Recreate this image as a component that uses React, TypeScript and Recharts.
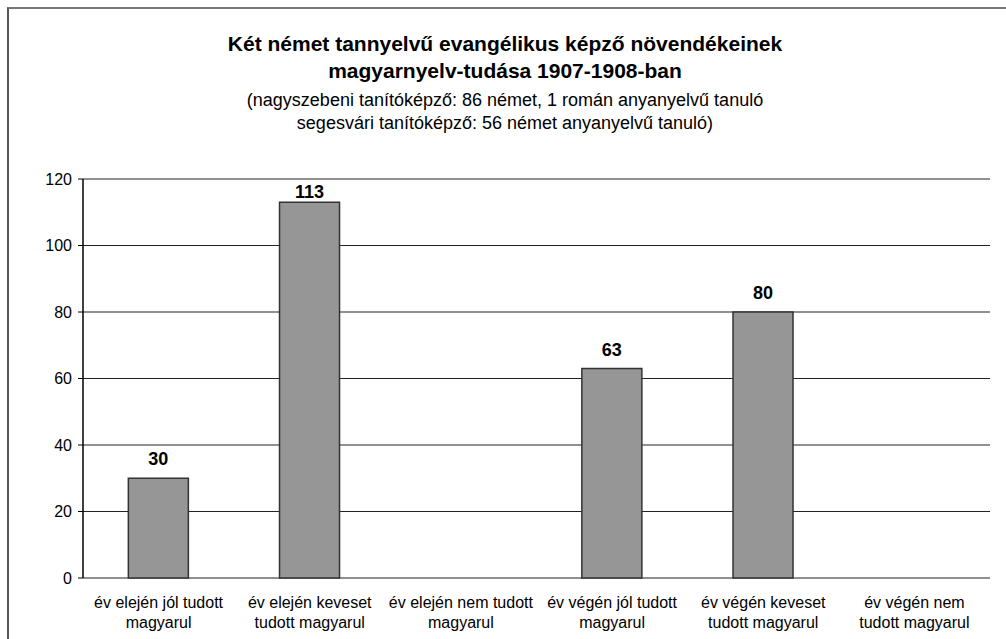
import { Bar, BarChart, CartesianGrid, LabelList, XAxis, YAxis } from 'recharts'

const categories = [
  ['év elején jól tudott', 'magyarul'],
  ['év elején keveset', 'tudott magyarul'],
  ['év elején nem tudott', 'magyarul'],
  ['év végén jól tudott', 'magyarul'],
  ['év végén keveset', 'tudott magyarul'],
  ['év végén nem', 'tudott magyarul'],
]
const students = [30, 113, 0, 63, 80, 0]
const yTicks = [0, 20, 40, 60, 80, 100, 120]
const edgeTicks = [0, 1, 2, 3, 4, 5, 6]

const data = categories.map((lines, i) => ({
  name: lines.join(' '),
  lines,
  value: students[i],
}))

const font = 'Arial, "Liberation Sans", sans-serif'
const plotTop = 179

function CategoryTick(props: any) {
  const { x, y, payload, index } = props
  const lines = data[index]?.lines ?? [String(payload.value)]
  return (
    <text x={x} y={y} textAnchor="middle" fontFamily={font} fontSize={16} fill="#000">
      {lines.map((line: string, i: number) => (
        <tspan key={i} x={x} dy={i === 0 ? 22 : 20}>
          {line}
        </tspan>
      ))}
    </text>
  )
}

// value label above the bar, kept inside the plot when the bar is near the top
function ValueLabel(props: any) {
  const { viewBox, value } = props
  if (!value || !viewBox) return null
  const cx = viewBox.x + viewBox.width / 2
  const baseline = Math.max(viewBox.y - 13, plotTop + 19)
  return (
    <text x={cx} y={baseline} textAnchor="middle" fontFamily={font} fontSize={18} fontWeight="bold" fill="#000">
      {value}
    </text>
  )
}

export default function App() {
  return (
    <div style={{ position: 'absolute', left: 0, top: 0, width: 1006, height: 639, background: '#fff', overflow: 'hidden', fontFamily: font }}>
      <div style={{ position: 'absolute', left: 7, top: 7, width: 1100, height: 700, borderTop: '2px solid #777', borderLeft: '2px solid #555' }} />
      <div style={{ position: 'absolute', left: 0, top: 30, width: 1010, textAlign: 'center', fontSize: 21, lineHeight: '27px', fontWeight: 'bold', color: '#000' }}>
        <div>Két német tannyelvű evangélikus képző növendékeinek</div>
        <div>magyarnyelv-tudása 1907-1908-ban</div>
      </div>
      <div style={{ position: 'absolute', left: 0, top: 89, width: 1010, textAlign: 'center', fontSize: 18, lineHeight: '23px', color: '#000' }}>
        <div>(nagyszebeni tanítóképző: 86 német, 1 román anyanyelvű tanuló</div>
        <div>segesvári tanítóképző: 56 német anyanyelvű tanuló)</div>
      </div>
      <div style={{ position: 'absolute', left: 0, top: 0 }}>
        <BarChart
          width={1006}
          height={639}
          data={data}
          margin={{ top: plotTop, right: 16, bottom: 0, left: 0 }}
          barCategoryGap="30%"
        >
          <CartesianGrid vertical={false} stroke="#222" strokeWidth={1.2} />
          <XAxis
            xAxisId="edge"
            type="number"
            domain={[0, 6]}
            ticks={edgeTicks}
            allowDataOverflow
            height={0}
            tick={false}
            tickSize={6}
            axisLine={{ stroke: '#000', strokeWidth: 1.5 }}
            tickLine={{ stroke: '#000', strokeWidth: 1.5 }}
          />
          <XAxis
            dataKey="name"
            height={61}
            axisLine={false}
            tickLine={false}
            interval={0}
            tick={<CategoryTick />}
          />
          <YAxis
            domain={[0, 120]}
            ticks={yTicks}
            width={83}
            tickSize={5}
            tickMargin={6}
            axisLine={{ stroke: '#000', strokeWidth: 1.5 }}
            tickLine={{ stroke: '#000' }}
            tick={{ fontSize: 16, fill: '#000', fontFamily: font }}
          />
          <YAxis
            yAxisId="right"
            orientation="right"
            domain={[0, 120]}
            width={0}
            tick={false}
            tickLine={false}
            axisLine={{ stroke: '#999', strokeWidth: 2 }}
          />
          <Bar dataKey="value" fill="#969696" stroke="#333" strokeWidth={1.5} isAnimationActive={false}>
            <LabelList dataKey="value" content={<ValueLabel />} />
          </Bar>
        </BarChart>
      </div>
    </div>
  )
}
